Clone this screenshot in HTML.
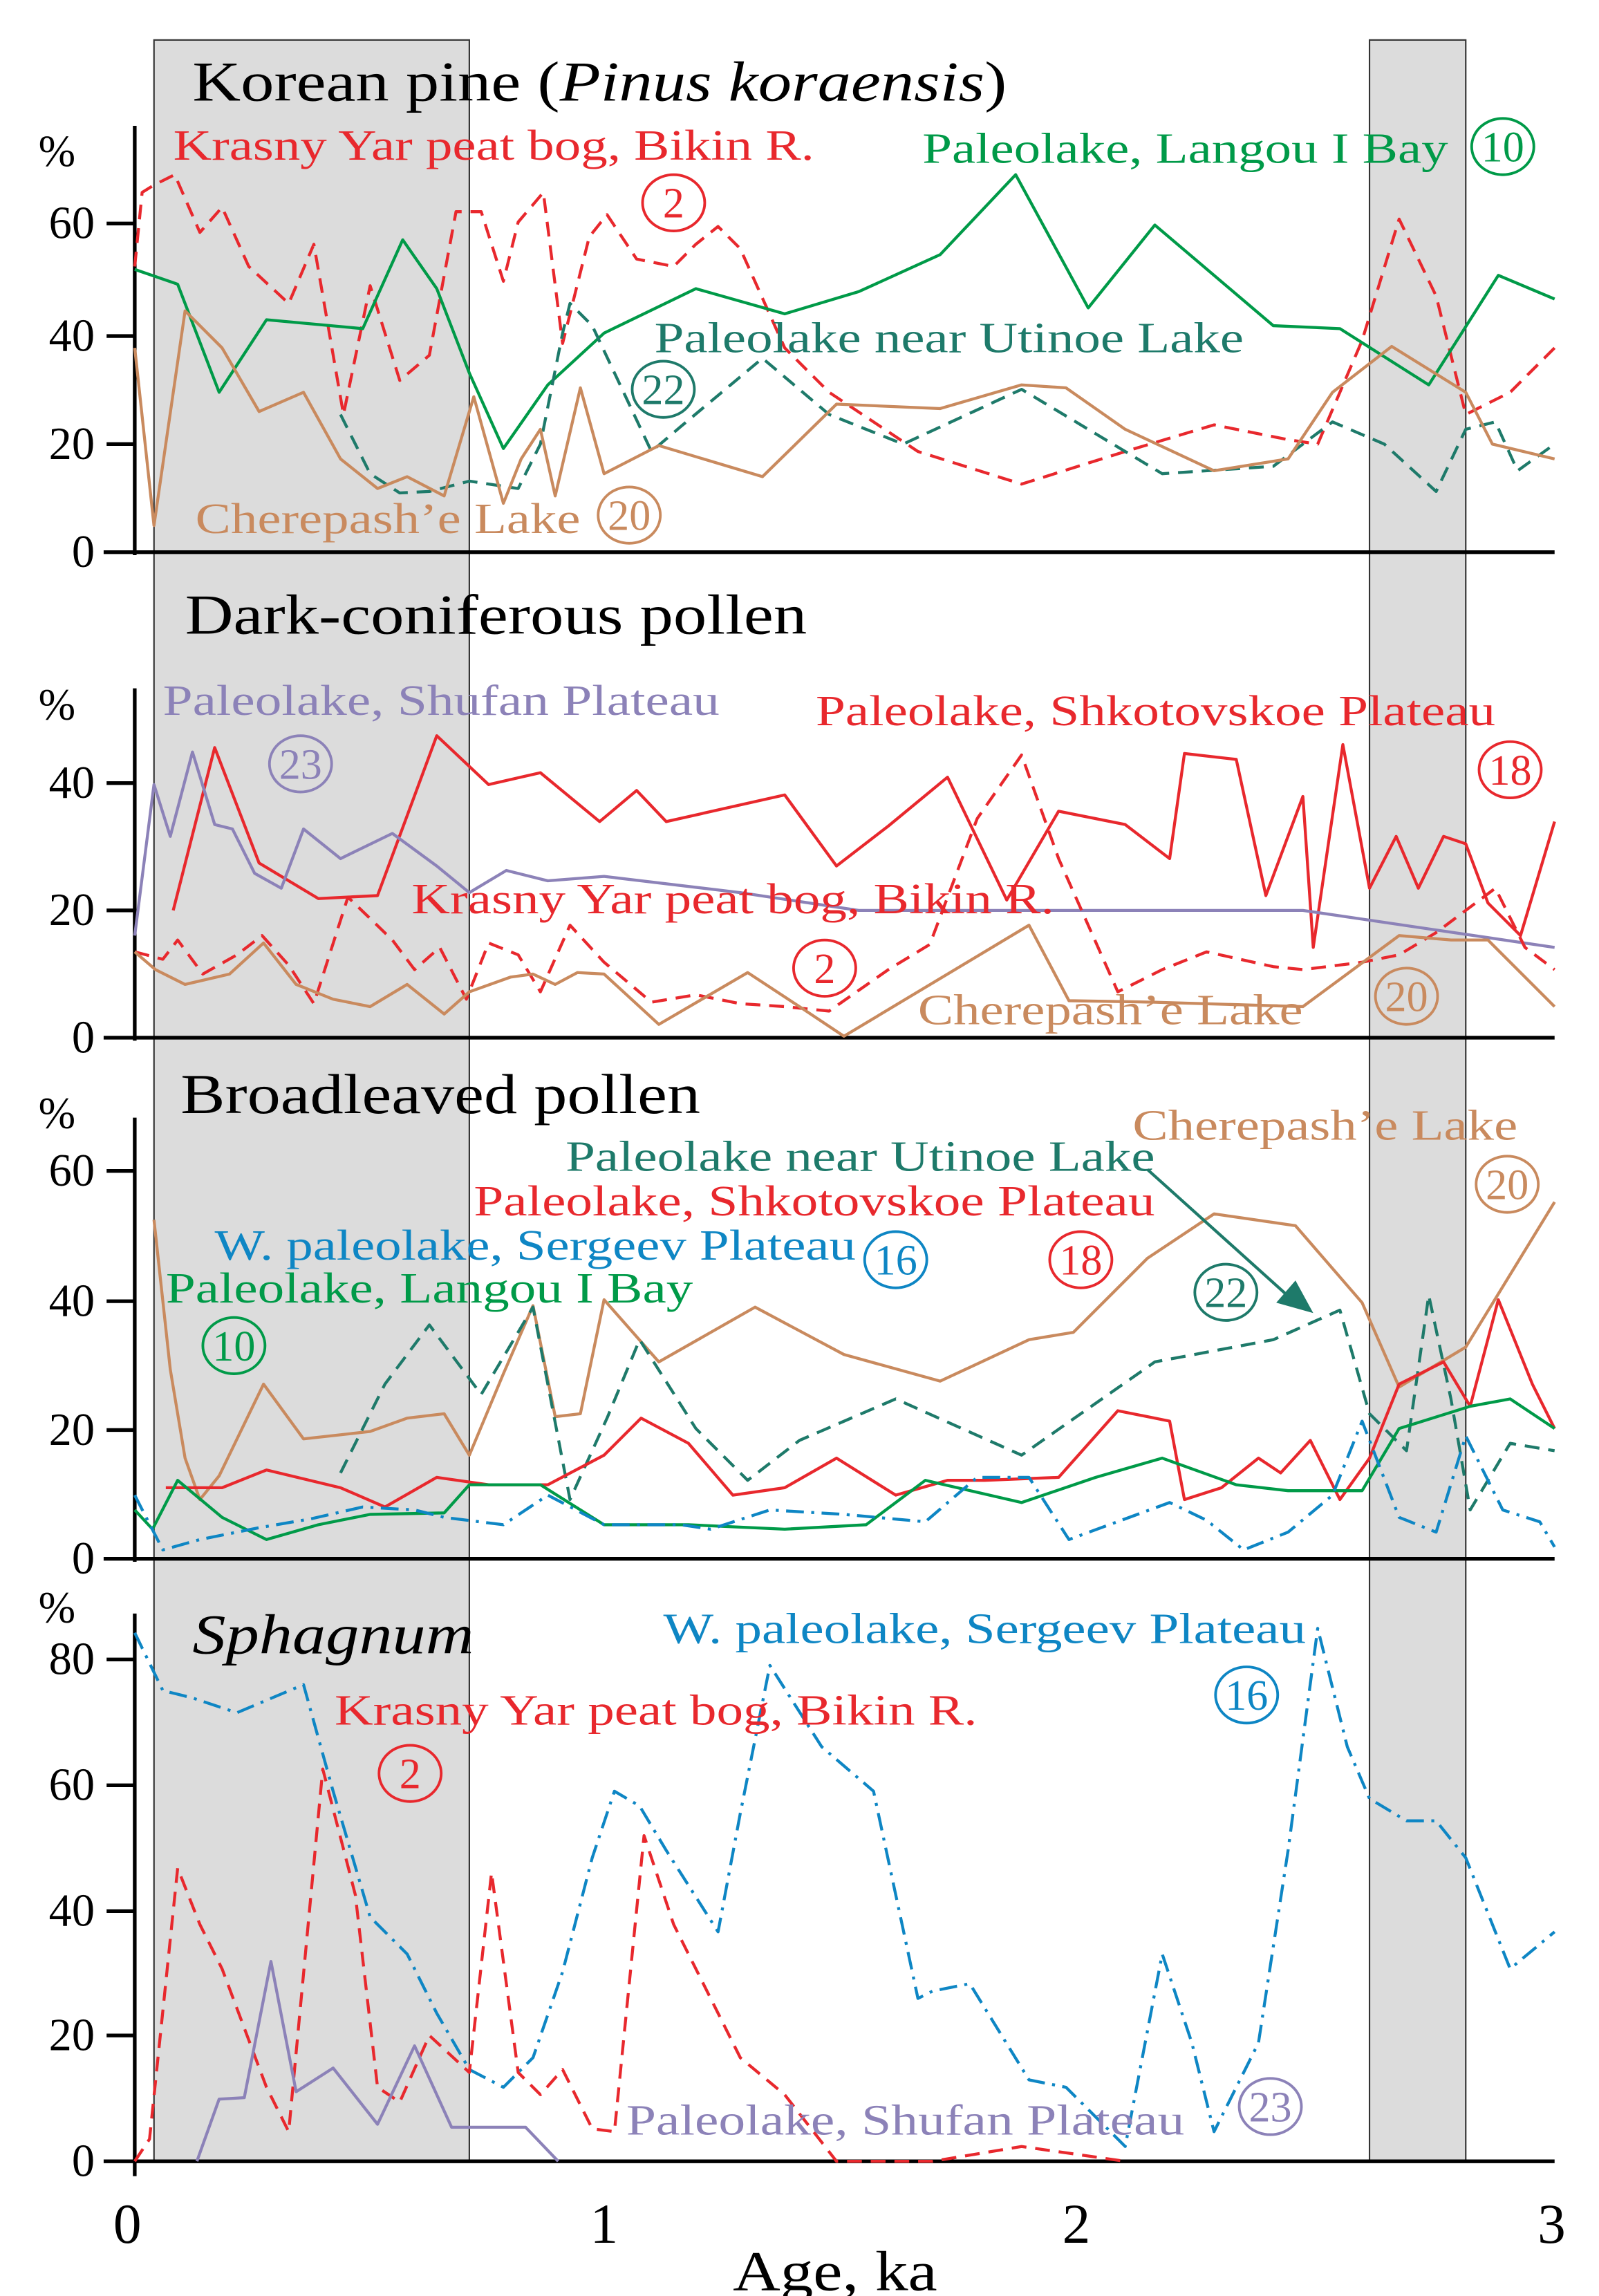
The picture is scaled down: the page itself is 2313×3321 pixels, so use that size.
<!DOCTYPE html>
<html><head><meta charset="utf-8"><style>
html,body{margin:0;padding:0;background:#fff}
svg{display:block}
text{font-family:"Liberation Serif",serif}
</style></head><body>
<svg width="2313" height="3321" viewBox="0 0 1080 1551" preserveAspectRatio="none" xmlns="http://www.w3.org/2000/svg">
<rect x="0" y="0" width="1080" height="1551" fill="#fff"/>
<rect x="104" y="27" width="213" height="1433" fill="#dcdcdc" stroke="#333" stroke-width="1"/>
<rect x="925" y="27" width="65" height="1433" fill="#dcdcdc" stroke="#333" stroke-width="1"/>

<g stroke="#000" stroke-width="2.5" fill="none">
<line x1="91" y1="85" x2="91" y2="375"/>
<line x1="91" y1="465" x2="91" y2="703"/>
<line x1="91" y1="755" x2="91" y2="1055"/>
<line x1="91" y1="1090" x2="91" y2="1470"/>
<line x1="70" y1="373" x2="1050" y2="373"/>
<line x1="70" y1="701" x2="1050" y2="701"/>
<line x1="70" y1="1053" x2="1050" y2="1053"/>
<line x1="70" y1="1460" x2="1050" y2="1460"/>
<line x1="72" y1="300" x2="91" y2="300"/><line x1="72" y1="227" x2="91" y2="227"/><line x1="72" y1="151" x2="91" y2="151"/>
<line x1="72" y1="615" x2="91" y2="615"/><line x1="72" y1="529" x2="91" y2="529"/>
<line x1="72" y1="966" x2="91" y2="966"/><line x1="72" y1="879" x2="91" y2="879"/><line x1="72" y1="791" x2="91" y2="791"/>
<line x1="72" y1="1375" x2="91" y2="1375"/><line x1="72" y1="1291" x2="91" y2="1291"/><line x1="72" y1="1206" x2="91" y2="1206"/><line x1="72" y1="1121" x2="91" y2="1121"/>
</g>

<g font-size="31" text-anchor="end" fill="#000">
<text x="64" y="383">0</text><text x="64" y="310">20</text><text x="64" y="237">40</text><text x="64" y="161">60</text>
<text x="64" y="711">0</text><text x="64" y="625">20</text><text x="64" y="539">40</text>
<text x="64" y="1063">0</text><text x="64" y="976">20</text><text x="64" y="889">40</text><text x="64" y="801">60</text>
<text x="64" y="1470">0</text><text x="64" y="1385">20</text><text x="64" y="1301">40</text><text x="64" y="1216">60</text><text x="64" y="1131">80</text>
</g>
<g font-size="30" fill="#000">
<text x="26" y="112">%</text><text x="26" y="486">%</text><text x="26" y="762">%</text><text x="26" y="1096">%</text>
</g>
<g font-size="38" text-anchor="middle" fill="#000">
<text x="86" y="1515">0</text><text x="408" y="1515">1</text><text x="727" y="1515">2</text><text x="1048" y="1515">3</text>
</g>
<text x="495" y="1547" font-size="38" textLength="138" lengthAdjust="spacingAndGlyphs">Age, ka</text>

<g font-size="38" fill="#000" lengthAdjust="spacingAndGlyphs">
<text x="130" y="68" textLength="550" lengthAdjust="spacingAndGlyphs">Korean pine (<tspan font-style="italic">Pinus koraensis</tspan>)</text>
<text x="125" y="428" textLength="420" lengthAdjust="spacingAndGlyphs">Dark-coniferous pollen</text>
<text x="122" y="752" textLength="351" lengthAdjust="spacingAndGlyphs">Broadleaved pollen</text>
<text x="130" y="1117" font-style="italic" textLength="190" lengthAdjust="spacingAndGlyphs">Sphagnum</text>
</g>

<g fill="none" stroke-width="2" stroke-linejoin="round">
<polyline stroke="#e8282d" stroke-dasharray="10,6" points="91,180 96,130 104,125 118,118 135,157 150,140 168,180 195,205 212,165 232,280 250,193 270,257 290,240 308,143 325,143 340,190 350,150 367,130 380,232 398,160 410,145 430,175 455,180 470,165 485,153 500,168 530,235 560,265 620,305 690,327 760,305 820,287 870,297 890,300 920,230 945,148 970,200 990,280 1020,265 1050,235"/>
<polyline stroke="#009a48" points="91,182 120,192 148,265 180,216 245,222 272,162 295,195 317,252 340,303 370,260 408,225 470,195 530,212 580,197 635,172 686,118 735,208 780,152 860,220 905,222 965,260 1012,186 1050,202"/>
<polyline stroke="#1e7a6a" stroke-dasharray="10,6" points="230,280 250,320 270,333 290,332 317,325 350,330 365,300 380,225 385,205 400,220 440,305 460,288 515,242 560,280 610,300 690,263 785,320 860,315 900,285 935,300 970,332 990,290 1010,285 1025,318 1050,300"/>
<polyline stroke="#c98a5e" points="91,235 104,355 125,210 150,235 175,278 205,265 230,310 255,330 275,322 300,335 320,268 340,340 352,310 365,290 375,335 392,262 408,320 445,301 515,322 565,273 635,276 690,260 720,262 760,290 820,318 870,310 900,265 940,234 990,265 1008,300 1050,310"/>
<polyline stroke="#e8282d" points="117,615 145,505 175,583 215,607 255,605 295,497 330,530 365,522 405,555 430,534 450,555 530,537 565,585 600,558 640,525 680,608 715,548 760,557 790,580 800,509 835,513 855,605 880,538 887,640 907,503 925,600 943,565 958,600 975,565 990,570 1005,610 1027,632 1050,555"/>
<polyline stroke="#8c82b8" points="91,632 104,530 115,565 130,508 145,557 157,560 172,590 190,600 205,560 230,580 265,563 295,585 317,603 342,588 370,595 408,592 500,603 580,615 700,615 880,615 1050,640"/>
<polyline stroke="#e8282d" stroke-dasharray="10,6" points="91,643 110,648 120,635 137,658 160,645 177,632 195,652 212,678 235,606 265,635 280,655 297,640 315,675 330,637 350,645 365,670 385,625 408,650 440,677 470,672 500,678 530,680 560,683 600,655 628,638 660,553 690,510 715,580 755,670 785,655 815,643 860,653 880,655 920,650 945,645 970,630 990,615 1010,600 1030,640 1050,655"/>
<polyline stroke="#c98a5e" points="91,643 105,655 125,665 155,658 178,637 200,665 225,675 250,680 275,665 300,685 317,670 345,660 360,658 375,665 390,657 408,658 445,692 505,657 540,680 570,700 695,625 722,676 780,677 880,680 945,632 980,635 1005,635 1050,680"/>
<polyline stroke="#c98a5e" points="104,824 115,925 125,985 135,1013 148,997 178,935 205,972 250,967 275,958 300,955 317,983 340,928 360,882 375,957 392,955 408,878 445,920 510,883 570,915 635,933 695,905 725,900 775,850 820,820 875,828 920,880 945,937 990,910 1050,812"/>
<polyline stroke="#1e7a6a" stroke-dasharray="10,6" points="230,995 260,935 290,895 325,942 360,883 385,1013 410,958 432,905 470,965 505,1000 540,973 605,945 690,983 780,920 860,905 905,885 925,955 950,980 965,875 980,945 993,1020 1020,975 1050,980"/>
<polyline stroke="#e8282d" points="112,1005 150,1005 180,993 230,1005 260,1018 295,998 330,1003 370,1003 408,983 433,958 465,975 495,1010 530,1005 565,985 605,1010 640,1000 665,1000 715,998 755,953 790,960 800,1013 825,1005 850,985 865,995 885,973 905,1013 925,985 945,935 975,920 993,950 1012,878 1035,935 1050,965"/>
<polyline stroke="#009a48" points="91,1020 103,1033 120,1000 150,1025 180,1040 215,1030 250,1023 300,1022 317,1003 340,1003 365,1003 408,1030 465,1030 530,1033 585,1030 625,1000 690,1015 740,998 785,985 835,1003 870,1007 920,1007 945,965 993,950 1020,945 1050,965"/>
<polyline stroke="#0e86c4" stroke-dasharray="12,5,2,5" points="91,1010 110,1047 135,1040 175,1032 210,1026 245,1018 280,1020 300,1025 340,1030 370,1010 408,1030 460,1030 480,1033 520,1020 570,1023 625,1028 660,998 695,998 722,1040 790,1015 815,1027 840,1047 870,1035 900,1010 920,960 945,1025 970,1035 990,970 1015,1020 1040,1028 1050,1045"/>
<polyline stroke="#0e86c4" stroke-dasharray="12,5,2,5" points="91,1103 110,1142 130,1147 160,1157 205,1138 225,1210 250,1295 275,1320 295,1360 317,1398 340,1410 360,1390 380,1332 400,1255 415,1210 432,1220 450,1250 485,1305 500,1225 520,1125 555,1180 590,1210 620,1350 630,1345 655,1340 695,1405 720,1410 760,1450 785,1320 805,1380 820,1440 850,1380 870,1250 890,1100 910,1180 925,1215 950,1230 970,1230 990,1255 1020,1330 1050,1305"/>
<polyline stroke="#e8282d" stroke-dasharray="10,6" points="91,1460 101,1445 120,1262 135,1300 150,1330 165,1370 180,1410 195,1440 218,1195 240,1280 255,1410 270,1420 290,1375 317,1400 332,1265 350,1400 365,1415 380,1398 400,1438 415,1440 435,1240 455,1300 480,1350 500,1390 530,1415 565,1460 630,1460 690,1450 760,1460"/>
<polyline stroke="#8c82b8" points="133,1460 148,1418 165,1417 183,1325 200,1413 225,1397 255,1435 280,1382 305,1437 355,1437 377,1460"/>
</g>

<line x1="775" y1="790" x2="875" y2="880" stroke="#1e7a6a" stroke-width="2"/>
<polygon points="887,887 862,880 875,865" fill="#1e7a6a"/>

<g font-size="29">
<text x="117" y="108" fill="#e8282d" textLength="433" lengthAdjust="spacingAndGlyphs">Krasny Yar peat bog, Bikin R.</text>
<text x="623" y="110" fill="#009a48" textLength="355" lengthAdjust="spacingAndGlyphs">Paleolake, Langou I Bay</text>
<text x="442" y="238" fill="#1e7a6a" textLength="398" lengthAdjust="spacingAndGlyphs">Paleolake near Utinoe Lake</text>
<text x="132" y="360" fill="#c98a5e" textLength="260" lengthAdjust="spacingAndGlyphs">Cherepash’e Lake</text>
<text x="110" y="483" fill="#8c82b8" textLength="376" lengthAdjust="spacingAndGlyphs">Paleolake, Shufan Plateau</text>
<text x="551" y="490" fill="#e8282d" textLength="459" lengthAdjust="spacingAndGlyphs">Paleolake, Shkotovskoe Plateau</text>
<text x="278" y="617" fill="#e8282d" textLength="434" lengthAdjust="spacingAndGlyphs">Krasny Yar peat bog, Bikin R.</text>
<text x="620" y="692" fill="#c98a5e" textLength="260" lengthAdjust="spacingAndGlyphs">Cherepash’e Lake</text>
<text x="765" y="770" fill="#c98a5e" textLength="260" lengthAdjust="spacingAndGlyphs">Cherepash’e Lake</text>
<text x="382" y="791" fill="#1e7a6a" textLength="398" lengthAdjust="spacingAndGlyphs">Paleolake near Utinoe Lake</text>
<text x="320" y="821" fill="#e8282d" textLength="460" lengthAdjust="spacingAndGlyphs">Paleolake, Shkotovskoe Plateau</text>
<text x="145" y="851" fill="#0e86c4" textLength="433" lengthAdjust="spacingAndGlyphs">W. paleolake, Sergeev Plateau</text>
<text x="112" y="880" fill="#009a48" textLength="356" lengthAdjust="spacingAndGlyphs">Paleolake, Langou I Bay</text>
<text x="448" y="1110" fill="#0e86c4" textLength="434" lengthAdjust="spacingAndGlyphs">W. paleolake, Sergeev Plateau</text>
<text x="226" y="1165" fill="#e8282d" textLength="434" lengthAdjust="spacingAndGlyphs">Krasny Yar peat bog, Bikin R.</text>
<text x="423" y="1442" fill="#8c82b8" textLength="377" lengthAdjust="spacingAndGlyphs">Paleolake, Shufan Plateau</text>
</g>

<g fill="none" stroke-width="1.8">
<g stroke="#e8282d"><ellipse cx="455" cy="137" rx="21" ry="19"/><ellipse cx="1020" cy="520" rx="21" ry="19"/><ellipse cx="557" cy="654" rx="21" ry="19"/><ellipse cx="730" cy="851" rx="21" ry="19"/><ellipse cx="277" cy="1198" rx="21" ry="19"/></g>
<g stroke="#009a48"><ellipse cx="1015" cy="99" rx="21" ry="19"/><ellipse cx="158" cy="909" rx="21" ry="19"/></g>
<g stroke="#1e7a6a"><ellipse cx="448" cy="263" rx="21" ry="19"/><ellipse cx="828" cy="873" rx="21" ry="19"/></g>
<g stroke="#c98a5e"><ellipse cx="425" cy="348" rx="21" ry="19"/><ellipse cx="950" cy="673" rx="21" ry="19"/><ellipse cx="1018" cy="800" rx="21" ry="19"/></g>
<g stroke="#8c82b8"><ellipse cx="203" cy="516" rx="21" ry="19"/><ellipse cx="858" cy="1423" rx="21" ry="19"/></g>
<g stroke="#0e86c4"><ellipse cx="605" cy="851" rx="21" ry="19"/><ellipse cx="842" cy="1145" rx="21" ry="19"/></g>
</g>
<g font-size="29" text-anchor="middle">
<text x="455" y="147" fill="#e8282d">2</text><text x="1020" y="530" fill="#e8282d">18</text><text x="557" y="664" fill="#e8282d">2</text><text x="730" y="861" fill="#e8282d">18</text><text x="277" y="1208" fill="#e8282d">2</text>
<text x="1015" y="109" fill="#009a48">10</text><text x="158" y="919" fill="#009a48">10</text>
<text x="448" y="273" fill="#1e7a6a">22</text><text x="828" y="883" fill="#1e7a6a">22</text>
<text x="425" y="358" fill="#c98a5e">20</text><text x="950" y="683" fill="#c98a5e">20</text><text x="1018" y="810" fill="#c98a5e">20</text>
<text x="203" y="526" fill="#8c82b8">23</text><text x="858" y="1433" fill="#8c82b8">23</text>
<text x="605" y="861" fill="#0e86c4">16</text><text x="842" y="1155" fill="#0e86c4">16</text>
</g>
</svg>
</body></html>
